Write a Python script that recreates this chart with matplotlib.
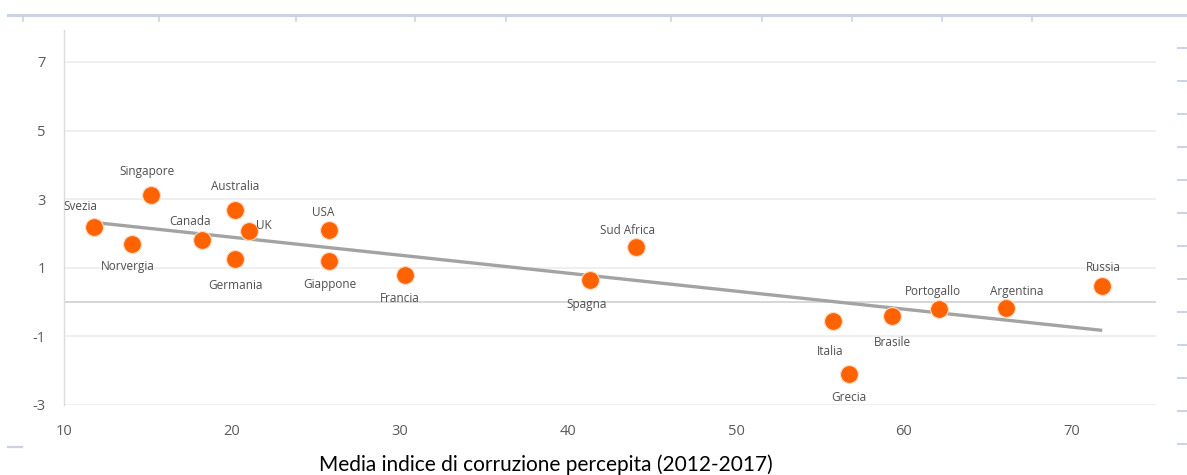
import matplotlib
matplotlib.use("Agg")

import matplotlib.pyplot as plt
import numpy as np
from matplotlib.lines import Line2D

plt.rcParams["axes.unicode_minus"] = False

# Perceived corruption index (x) vs. indicator (y), by country
countries = ["Svezia", "Norvergia", "Singapore", "Canada", "Australia", "Germania",
             "UK", "USA", "Giappone", "Francia", "Spagna", "Sud Africa",
             "Italia", "Grecia", "Brasile", "Portogallo", "Argentina", "Russia"]
corruption = [11.8, 14.05, 15.2, 18.2, 20.2, 20.2,
              21.0, 25.8, 25.8, 30.3, 41.3, 44.05,
              55.8, 56.7, 59.3, 62.1, 66.1, 71.8]
values = [2.2, 1.7, 3.13, 1.82, 2.69, 1.26,
          2.08, 2.11, 1.2, 0.8, 0.65, 1.61,
          -0.55, -2.09, -0.40, -0.2, -0.17, 0.48]

# label placement: offset in pixels from the marker, plus horizontal alignment
label_offsets = {
    "Svezia": (-14, 20, "center"), "Norvergia": (-4, -23, "center"),
    "Singapore": (-4, 23, "center"), "Canada": (-12, 18, "center"),
    "Australia": (0, 23, "center"), "Germania": (0, -27, "center"),
    "UK": (7, 5, "left"), "USA": (-6, 17, "center"),
    "Giappone": (0, -24, "center"), "Francia": (-5, -24, "center"),
    "Spagna": (-3, -25, "center"), "Sud Africa": (-8, 16, "center"),
    "Italia": (-3, -31, "center"), "Grecia": (0, -24, "center"),
    "Brasile": (0, -27, "center"), "Portogallo": (-6, 17, "center"),
    "Argentina": (10, 16, "center"), "Russia": (1, 18, "center"),
}

x_ticks = [10, 20, 30, 40, 50, 60, 70]
y_ticks = [-3, -1, 1, 3, 5, 7]

ORANGE = "#FF6200"
TREND = "#A3A3A3"
TICK_TEXT = "#5a5a5a"
FRAME = "#C9D3E6"

W, H = 1187, 475
fig = plt.figure(figsize=(W / 100, H / 100), dpi=100)
ax = fig.add_axes([64 / W, 1 - 405 / H, (1156 - 64) / W, (405 - 30) / H])

ax.set_xlim(10, 75)
ax.set_ylim(-3, 7.93)

# grid and zero line
for yt in y_ticks:
    ax.axhline(yt, color="#ECECEC", lw=1.2, zorder=0)
ax.axhline(0, color="#D0D0D0", lw=1.2, zorder=0)

for side in ("top", "right", "bottom"):
    ax.spines[side].set_visible(False)
ax.spines["left"].set_color("#DCDCDC")
ax.spines["left"].set_linewidth(1.0)

ax.set_xticks(x_ticks)
ax.set_yticks(y_ticks)
ax.tick_params(axis="both", length=0, colors=TICK_TEXT, labelsize=10.5)
ax.tick_params(axis="x", pad=14)
ax.tick_params(axis="y", pad=13)
for lbl in ax.get_xticklabels() + ax.get_yticklabels():
    lbl.set_family("Open Sans")

# least-squares trend line across the data range
xs = np.array(corruption)
ys = np.array(values)
slope, intercept = np.polyfit(xs, ys, 1)
x_line = np.array([xs.min(), xs.max()])
ax.plot(x_line, slope * x_line + intercept, color=TREND, lw=2.4, zorder=2,
        solid_capstyle="butt")

ax.scatter(xs, ys, s=165, color=ORANGE, edgecolors="#FFD9BF", linewidths=0.8,
           zorder=3)

for name, xv, yv in zip(countries, corruption, values):
    dx, dy, ha = label_offsets[name]
    ax.annotate(name, (xv, yv), xytext=(dx, dy), textcoords="offset pixels",
                ha=ha, va="center", fontsize=8.5, color="#4f4f4f",
                family="Open Sans", zorder=4)

# surrounding frame: top rule with ticks, right-hand ticks, bottom dashes
fig.add_artist(Line2D([8 / W, 1.0], [1 - 15 / H, 1 - 15 / H], color=FRAME, lw=2.2))
for px in [23, 159, 296, 415, 506, 671, 762, 852, 942, 1032]:
    fig.add_artist(Line2D([px / W, px / W], [1 - 16 / H, 1 - 21 / H],
                          color=FRAME, lw=1.2))
for py in range(48, 450, 33):
    fig.add_artist(Line2D([1178 / W, 1.0], [1 - py / H, 1 - py / H],
                          color=FRAME, lw=1.4))
fig.add_artist(Line2D([8 / W, 22 / W], [1 - 447 / H, 1 - 447 / H], color=FRAME, lw=1.6))

fig.text(546 / W, 1 - 465 / H, "Media indice di corruzione percepita (2012-2017)",
         ha="center", va="center", fontsize=15, color="black",
         family=["Lato", "DejaVu Sans"])

fig.savefig("out.png", dpi=100)
